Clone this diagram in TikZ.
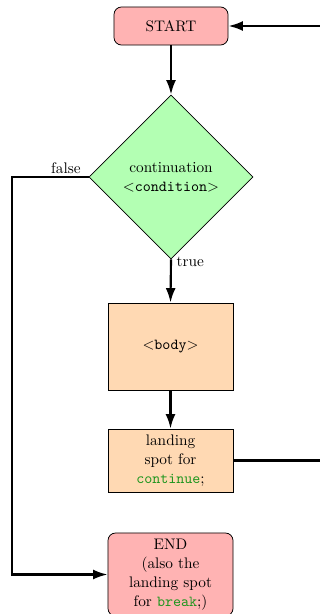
\documentclass[tikz,border=0pt]{standalone}
\usetikzlibrary{shapes.geometric,arrows.meta}
\definecolor{startred}{RGB}{255,179,179}
\definecolor{condgreen}{RGB}{179,255,179}
\definecolor{bodyorange}{RGB}{255,217,179}
\definecolor{kwgreen}{RGB}{30,150,30}
\begin{document}
\begin{tikzpicture}[x=0.654pt,y=-0.654pt,
  every node/.style={font=\fontsize{10}{12.4}\selectfont},
  terminal/.style={draw, line width=0.5pt, fill=startred, rounded corners=5pt,
    align=center, inner sep=0pt},
  decision/.style={draw, line width=0.5pt, fill=condgreen, diamond, aspect=1,
    minimum width=107.3pt, minimum height=107.3pt, inner sep=0pt, align=center},
  process/.style={draw, line width=0.5pt, fill=bodyorange, minimum width=81.8pt,
    align=center, inner sep=0pt},
  flow/.style={line width=1.4pt, -{Latex[length=9.5pt,width=6.5pt]}},
  link/.style={line width=1.4pt},
  tag/.style={inner sep=1.5pt}]
  \useasboundingbox (0,0) rectangle (320,614);

  \node[terminal, minimum width=74.6pt, minimum height=24.9pt] (start) at (171,26) {START};
  \node[decision] (cond) at (171,177) {continuation\\$<$\texttt{condition}$>$};
  \node[process, minimum height=56.9pt] (body) at (170.5,346.5) {$<$\texttt{body}$>$};
  \node[process, minimum height=41.2pt] (land) at (170.5,460.5)
    {landing\\spot for\\\textcolor{kwgreen}{\texttt{continue}};};
  \node[terminal, minimum width=81.8pt, minimum height=54.3pt] (end) at (170.5,574.5)
    {END\\(also the\\landing spot\\for \textcolor{kwgreen}{\texttt{break}};)};

  \coordinate (loopin) at (322,26);
  \coordinate (loopout) at (322,460.5);

  \draw[flow] (loopin) -- (start.east);
  \draw[flow] (start.south) -- (cond.north);
  \draw[flow] (cond.south) -- node[tag, pos=0, anchor=west, xshift=1.5pt, yshift=-1.5pt] {true} (body.north);
  \draw[flow] (body.south) -- (land.north);
  \draw[link] (land.east) -- (loopout);
  \draw[flow] (cond.west) -- node[tag, pos=0, anchor=south east, xshift=-3pt] {false}
    (12,177) |- (end.west);
\end{tikzpicture}
\end{document}
